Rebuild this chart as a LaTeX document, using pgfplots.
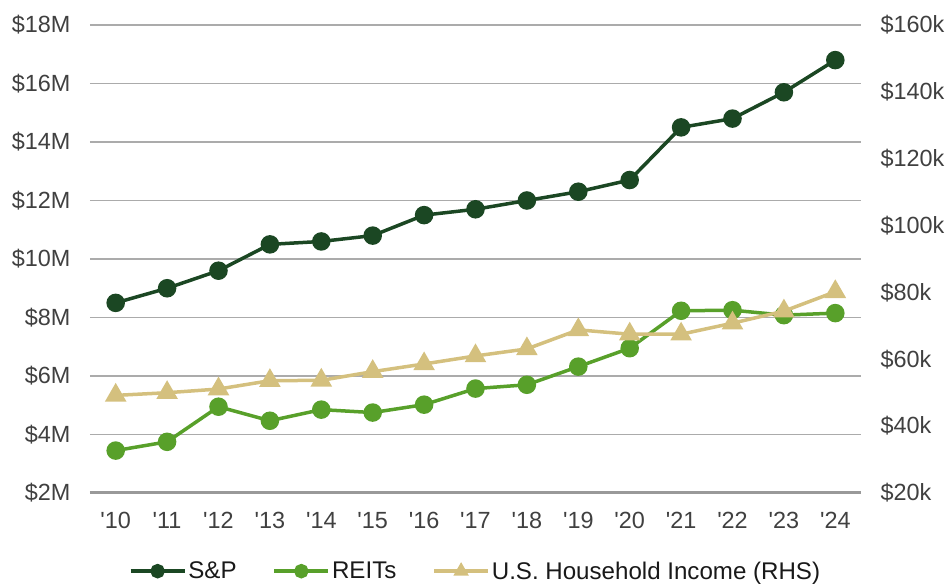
\documentclass[border=0pt]{standalone}
\usepackage{pgfplots}
\pgfplotsset{compat=1.18}
\usepackage{fontspec}
\setmainfont{Liberation Sans}
\definecolor{sp}{HTML}{1B4723}
\definecolor{reit}{HTML}{58A02A}
\definecolor{hh}{HTML}{D4C07E}
\definecolor{gridc}{HTML}{ABABAB}
\definecolor{basec}{HTML}{999999}
\definecolor{tickc}{HTML}{404040}
\begin{document}
\begin{tikzpicture}
\useasboundingbox (-90bp,-93bp) rectangle (858bp,493bp);
\pgfplotsset{
  common/.style={
    scale only axis, width=771bp, height=468bp, at={(0,0)}, anchor=south west,
    xmin=-0.5, xmax=14.5, axis line style={draw=none}, major tick length=0pt,
    tick style={draw=none},
    ticklabel style={font=\fontsize{23.5}{28}\selectfont, text=tickc},
  },
  sps/.style={sp, line width=3.5bp, mark=*, mark size=7.5bp, mark options={solid}},
  reits/.style={reit, line width=3.5bp, mark=*, mark size=7.5bp, mark options={solid}},
  hhs/.style={hh, line width=3.5bp, mark=triangle*, mark size=9bp, mark options={solid}},
}
\begin{axis}[common,
  ymin=2, ymax=18, ytick={2,4,...,18},
  yticklabels={\$2M,\$4M,\$6M,\$8M,\$10M,\$12M,\$14M,\$16M,\$18M},
  ymajorgrids, grid style={gridc, line width=1.2bp},
  xtick={0,...,14},
  xticklabels={\textquotesingle10,\textquotesingle11,\textquotesingle12,\textquotesingle13,\textquotesingle14,\textquotesingle15,\textquotesingle16,\textquotesingle17,\textquotesingle18,\textquotesingle19,\textquotesingle20,\textquotesingle21,\textquotesingle22,\textquotesingle23,\textquotesingle24},
  yticklabel style={anchor=east, xshift=-16bp},
  xticklabel style={anchor=north, yshift=-16bp},
]
\draw[basec, line width=4.5bp] (axis cs:-0.5,2) -- (axis cs:14.5,2);
\addplot[sps] coordinates {(0,8.5) (1,9.0) (2,9.6) (3,10.5) (4,10.6) (5,10.8) (6,11.5) (7,11.7) (8,12.0) (9,12.3) (10,12.7) (11,14.5) (12,14.8) (13,15.7) (14,16.8)};
\addplot[reits] coordinates {(0,3.45) (1,3.75) (2,4.95) (3,4.47) (4,4.85) (5,4.75) (6,5.02) (7,5.57) (8,5.7) (9,6.32) (10,6.95) (11,8.23) (12,8.25) (13,8.08) (14,8.15)};
\end{axis}
\begin{axis}[common,
  ymin=20, ymax=160, ytick={20,40,...,160},
  yticklabels={\$20k,\$40k,\$60k,\$80k,\$100k,\$120k,\$140k,\$160k},
  xtick=\empty,
  yticklabel pos=right,
  yticklabel style={anchor=west, xshift=16bp},
  legend columns=3,
  legend style={draw=none, fill=none, at={(0.5,-0.167)}, anchor=center,
    font=\fontsize{24.2}{28}\selectfont, text=black!90,
    /tikz/every even column/.append style={column sep=34bp}},
  legend image code/.code={\draw[mark repeat=2, mark phase=2, mark size=5.5bp, #1] plot coordinates {(0bp,0bp) (27bp,0bp) (54bp,0bp)};},
]
\addlegendimage{sps}
\addlegendentry{S\&P}
\addlegendimage{reits}
\addlegendentry{REITs}
\addplot[hhs] coordinates {(0,49.2) (1,50.0) (2,51.1) (3,53.6) (4,53.7) (5,56.3) (6,58.6) (7,61.0) (8,63.1) (9,68.8) (10,67.5) (11,67.5) (12,70.8) (13,74.4) (14,80.2)};
\addlegendentry{U.S. Household Income (RHS)}
\end{axis}
\end{tikzpicture}
\end{document}
